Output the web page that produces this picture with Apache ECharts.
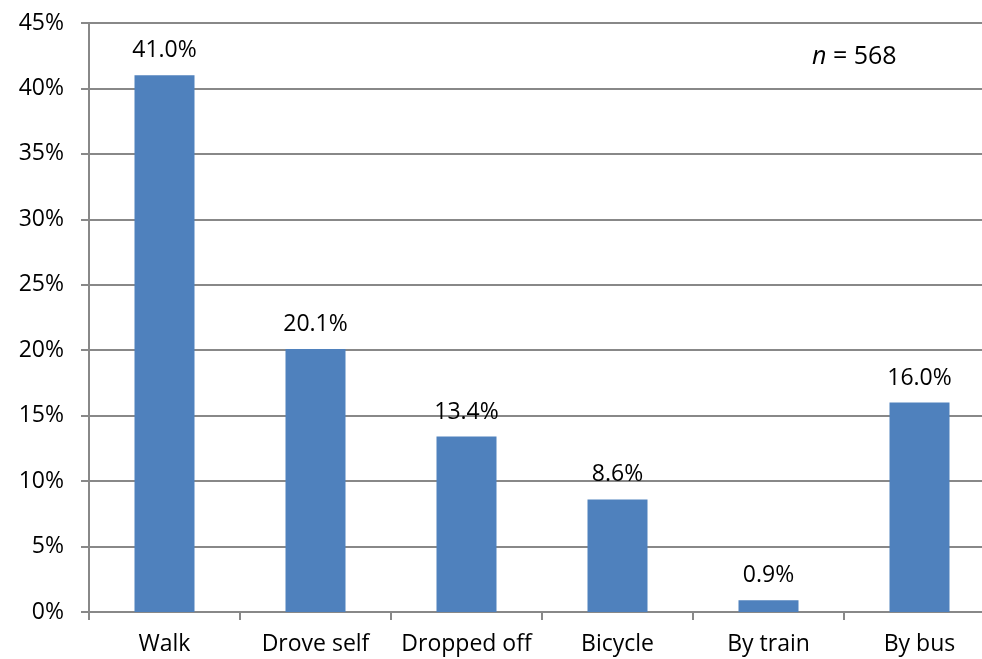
<!DOCTYPE html>
<html>
<head>
<meta charset="utf-8">
<style>
  html, body { margin: 0; padding: 0; background: #fff; }
  #chart { width: 982px; height: 659px; }
</style>
<script src="https://cdn.jsdelivr.net/npm/echarts@6/dist/echarts.min.js"></script>
</head>
<body>
<div id="chart"></div>
<script>
// Travel mode shares (percent of respondents)
const categories = ['Walk', 'Drove self', 'Dropped off', 'Bicycle', 'By train', 'By bus'];
const shares = [41.0, 20.1, 13.4, 8.6, 0.9, 16.0];
const sampleSize = 568;

const axisGray = '#888888';
const textFont = '"Open Sans", "Noto Sans", sans-serif';
const fontSize = 23;

const chart = echarts.init(document.getElementById('chart'), null, { renderer: 'canvas' });

chart.setOption({
  animation: false,
  backgroundColor: '#ffffff',
  textStyle: { fontFamily: textFont },
  // plot area runs slightly past the right edge of the canvas
  grid: { left: 89, top: 23, bottom: 47, width: 906, outerBoundsMode: 'none', containLabel: false },
  xAxis: {
    type: 'category',
    data: categories,
    axisLine: { lineStyle: { color: axisGray, width: 2 } },
    axisTick: { show: true, interval: 0, length: 8, lineStyle: { color: axisGray, width: 2 } },
    axisLabel: { interval: 0, color: '#000', fontSize: fontSize, fontFamily: textFont, margin: 21 }
  },
  yAxis: {
    type: 'value',
    min: 0,
    max: 45,
    interval: 5,
    axisLine: { show: true, lineStyle: { color: axisGray, width: 2 } },
    axisTick: { show: true, length: 8, lineStyle: { color: axisGray, width: 2 } },
    axisLabel: { color: '#000', fontSize: fontSize, fontFamily: textFont, margin: 25, formatter: '{value}%' },
    splitLine: { show: true, lineStyle: { color: axisGray, width: 2 } }
  },
  series: [{
    type: 'bar',
    data: shares,
    barWidth: 60,
    itemStyle: { color: '#4F81BD' },
    label: {
      show: true,
      position: 'top',
      distance: 13,
      color: '#000',
      fontSize: fontSize,
      fontFamily: textFont,
      formatter: p => p.value.toFixed(1) + '%'
    }
  }],
  graphic: [{
    type: 'text',
    left: 812,
    top: 44,
    style: {
      text: '{i|n} = ' + sampleSize,
      fontSize: 25,
      fontFamily: textFont,
      fill: '#000',
      rich: { i: { fontStyle: 'italic', fontSize: 25, fontFamily: textFont } }
    }
  }]
});
</script>
</body>
</html>
